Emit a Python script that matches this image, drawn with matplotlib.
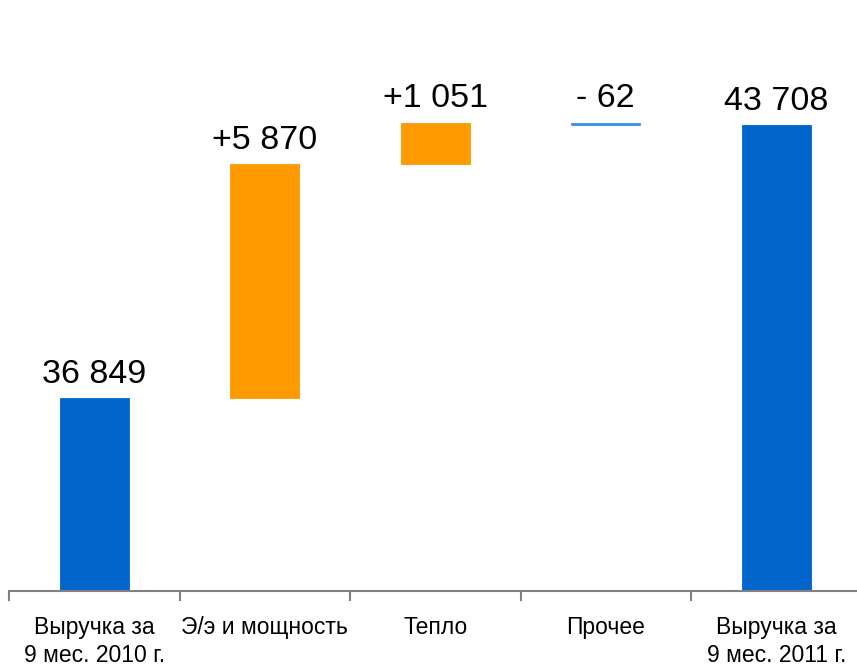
import matplotlib
matplotlib.use('Agg')
import matplotlib.pyplot as plt
import numpy as np

# Данные: водопад выручки
categories = ['Выручка за\n9 мес. 2010 г.', 'Э/э и мощность', 'Тепло', 'Прочее', 'Выручка за\n9 мес. 2011 г.']
start_value = 36849
deltas = [5870, 1051, -62]
end_value = 43708

plt.rcParams['font.family'] = ['Liberation Sans', 'DejaVu Sans']

BLUE = '#0066CC'
ORANGE = '#FF9900'
LIGHT_BLUE = '#3D8FE8'


def fmt(v, sign=False):
    s = f'{abs(v):,}'.replace(',', ' ')
    if sign:
        return ('+' if v > 0 else '- ') + s
    return s


# Вычисляем основания и высоты столбцов
bottoms = [0]
heights = [start_value]
colors = [BLUE]
labels = [fmt(start_value)]
level = start_value
for d in deltas:
    if d >= 0:
        bottoms.append(level)
        heights.append(d)
        colors.append(ORANGE)
    else:
        bottoms.append(level + d)
        heights.append(-d)
        colors.append(LIGHT_BLUE)
    labels.append(fmt(d, sign=True))
    level += d
bottoms.append(0)
heights.append(end_value)
colors.append(BLUE)
labels.append(fmt(end_value))

fig = plt.figure(figsize=(8.57, 6.7), dpi=100)
ax = fig.add_axes([9 / 857, 79 / 670, 852.5 / 857, 597 / 670])

x = np.arange(len(categories))
ax.bar(x, heights, bottom=bottoms, width=0.405, color=colors,
       edgecolor=colors, linewidth=0.6, zorder=2)

for xi, b, h, lab in zip(x, bottoms, heights, labels):
    ax.annotate(lab, (xi, b + h), xytext=(0, 6), textcoords='offset points',
                ha='center', va='bottom', fontsize=24.5, color='black')

ax.set_xlim(-0.5, len(categories) - 0.5)
ax.set_ylim(32000, 47000)

ax.set_xticks(x)
ax.set_xticklabels(categories, fontsize=16.5, linespacing=1.3)
ax.set_xticks(np.arange(-0.5, len(categories), 1.0), minor=True)
ax.tick_params(axis='x', which='major', length=0, pad=18)
ax.tick_params(axis='x', which='minor', length=7, width=1.5, color='#808080', direction='out')
ax.set_yticks([])

for side in ['top', 'right', 'left']:
    ax.spines[side].set_visible(False)
ax.spines['bottom'].set_color('#808080')
ax.spines['bottom'].set_linewidth(1.5)

fig.savefig('out.png', dpi=100)
